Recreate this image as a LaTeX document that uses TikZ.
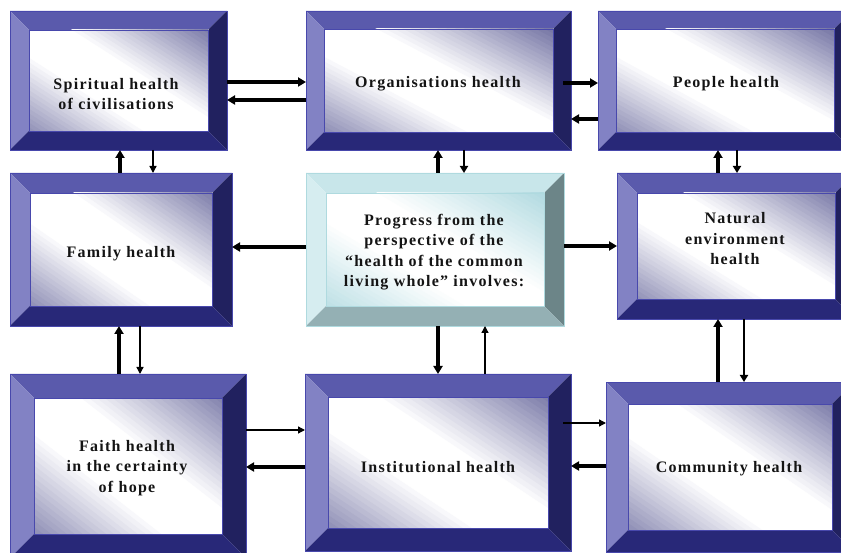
\documentclass[tikz,border=0pt]{standalone}
\usepackage{fontspec}
\setmainfont{Liberation Serif}[LetterSpace=8]
\usetikzlibrary{arrows.meta,fit}
\definecolor{pTop}{RGB}{90,90,172}
\definecolor{pLeft}{RGB}{130,130,196}
\definecolor{pRight}{RGB}{33,33,95}
\definecolor{pBot}{RGB}{40,40,120}
\definecolor{pEdge}{RGB}{72,72,172}
\definecolor{pShade}{RGB}{92,92,148}
\definecolor{cTop}{RGB}{200,230,234}
\definecolor{cLeft}{RGB}{214,237,240}
\definecolor{cRight}{RGB}{108,133,136}
\definecolor{cBot}{RGB}{148,176,180}
\definecolor{cEdge}{RGB}{175,218,223}
\definecolor{cShade}{RGB}{160,210,218}
\definecolor{txt}{RGB}{20,20,20}
% inner face: white along the top-left/bottom-right diagonal, darker toward top-right and bottom-left corners
\newcommand\innergrad[5]{%
  \begin{scope}
    \clip (#1,#2) rectangle (#3,#4);
    \fill[white] (#1,#2) rectangle (#3,#4);
    \pgfmathsetmacro\gw{#3-#1}%
    \pgfmathsetmacro\gh{#4-#2}%
    \begin{scope}[shift={(#1,#2)}, x={(\gw pt,0pt)}, y={(0pt,-\gh pt)}]
      \foreach \gk in {0,...,23}{
        \pgfmathsetmacro\gc{0.2+0.8*\gk/24}
        \pgfmathsetmacro\gp{100*(\gk+1)/24}
        \fill[#5!\gp!white] (\gc-2,-2) -- (\gc+3,3) -- (5,3) -- (5,-2) -- cycle;
        \fill[#5!\gp!white] (-2,\gc-2) -- (3,\gc+3) -- (3,5) -- (-2,5) -- cycle;
      }
    \end{scope}
  \end{scope}
}
% #1 name, #2 x1, #3 y1, #4 x2, #5 y2, #6 bevel, #7 scheme (p or c)
\newcommand\bevbox[7]{%
  \fill[#7Top] (#2,#3) -- (#4,#3) -- (#4-#6,#3+#6) -- (#2+#6,#3+#6) -- cycle;
  \fill[#7Left] (#2,#3) -- (#2+#6,#3+#6) -- (#2+#6,#5-#6) -- (#2,#5) -- cycle;
  \fill[#7Right] (#4,#3) -- (#4,#5) -- (#4-#6,#5-#6) -- (#4-#6,#3+#6) -- cycle;
  \fill[#7Bot] (#2,#5) -- (#4,#5) -- (#4-#6,#5-#6) -- (#2+#6,#5-#6) -- cycle;
  \innergrad{#2+#6}{#3+#6}{#4-#6}{#5-#6}{#7Shade}
  \draw[#7Edge, line width=0.7pt] (#2+#6,#3+#6) rectangle (#4-#6,#5-#6);
  \draw[#7Edge, line width=0.7pt] (#2,#3) rectangle (#4,#5);
  \node[fit={(#2,#3) (#4,#5)}, inner sep=0pt, outer sep=0pt] (#1) {};
}
\tikzset{
  lbl/.style={font=\bfseries\fontsize{16}{20.5}\selectfont, align=center, text=txt, inner sep=0pt},
  thk/.style={line width=3.2pt, -{Triangle[length=8pt,width=9pt]}},
  med/.style={line width=1.9pt, -{Triangle[length=7pt,width=8pt]}},
  thn/.style={line width=1.3pt, -{Triangle[length=7pt,width=7pt]}}
}
\begin{document}
\begin{tikzpicture}[x=1pt,y=-1pt]
\useasboundingbox (0,0) rectangle (841,553);
\clip (0,0) rectangle (841,553);
\fill[white] (0,0) rectangle (841,553);
\bevbox{spiritual}{10}{11}{227}{150}{19}{p}
\bevbox{org}{306}{11}{571}{150}{18}{p}
\bevbox{people}{598}{11}{852}{150}{18}{p}
\bevbox{family}{10}{173}{232}{326}{20}{p}
\bevbox{center}{306}{173}{564}{326}{20}{c}
\bevbox{natural}{617}{173}{855}{319}{20}{p}
\bevbox{faith}{10}{374}{246}{558}{24}{p}
\bevbox{inst}{305}{374}{571}{551}{23}{p}
\bevbox{community}{606}{382}{854}{552}{22}{p}

\node[lbl] (spiritual-t) at (116,94) {Spiritual health\\of civilisations};
\node[lbl] (org-t) at (438,84) {Organisations health};
\node[lbl] (people-t) at (726,84) {People health};
\node[lbl] (family-t) at (121,254) {Family health};
\node[lbl] (center-t) at (434,252) {Progress from the\\perspective of the\\“health of the common\\living whole” involves:};
\node[lbl] (natural-t) at (735,239) {Natural\\environment\\health};
\node[lbl] (faith-t) at (127,468) {Faith health\\in the certainty\\of hope};
\node[lbl] (inst-t) at (438,467) {Institutional health};
\node[lbl] (community-t) at (729,469) {Community health};

\draw[thk] (spiritual.east |- 0,82) -- (org.west |- 0,82);
\draw[thk] (org.west |- 0,100) -- (spiritual.east |- 0,100);
\draw[thk, shorten <=-8pt] (org.east |- 0,83) -- (people.west |- 0,83);
\draw[thk] (people.west |- 0,119) -- (org.east |- 0,119);
\draw[thk] (family.north -| 120,0) -- (spiritual.south -| 120,0);
\draw[thn] (spiritual.south -| 153,0) -- (family.north -| 153,0);
\draw[thk] (center.north -| 438,0) -- (org.south -| 438,0);
\draw[med] (org.south -| 464,0) -- (center.north -| 464,0);
\draw[thk] (natural.north -| 718,0) -- (people.south -| 718,0);
\draw[med] (people.south -| 737,0) -- (natural.north -| 737,0);
\draw[thk] (center.west |- 0,247) -- (family.east |- 0,247);
\draw[thk] (center.east |- 0,246) -- (natural.west |- 0,246);
\draw[thk] (faith.north -| 119,0) -- (family.south -| 119,0);
\draw[thn] (family.south -| 140,0) -- (faith.north -| 140,0);
\draw[thk] (center.south -| 438,0) -- (inst.north -| 438,0);
\draw[thn] (inst.north -| 485,0) -- (center.south -| 485,0);
\draw[thk] (community.north -| 718,0) -- (natural.south -| 718,0);
\draw[med] (natural.south -| 744,0) -- (community.north -| 744,0);
\draw[thn] (faith.east |- 0,430) -- (inst.west |- 0,430);
\draw[thk] (inst.west |- 0,467) -- (faith.east |- 0,467);
\draw[thn, shorten <=-8pt] (inst.east |- 0,423) -- (community.west |- 0,423);
\draw[thk] (community.west |- 0,466) -- (inst.east |- 0,466);
\end{tikzpicture}
\end{document}
